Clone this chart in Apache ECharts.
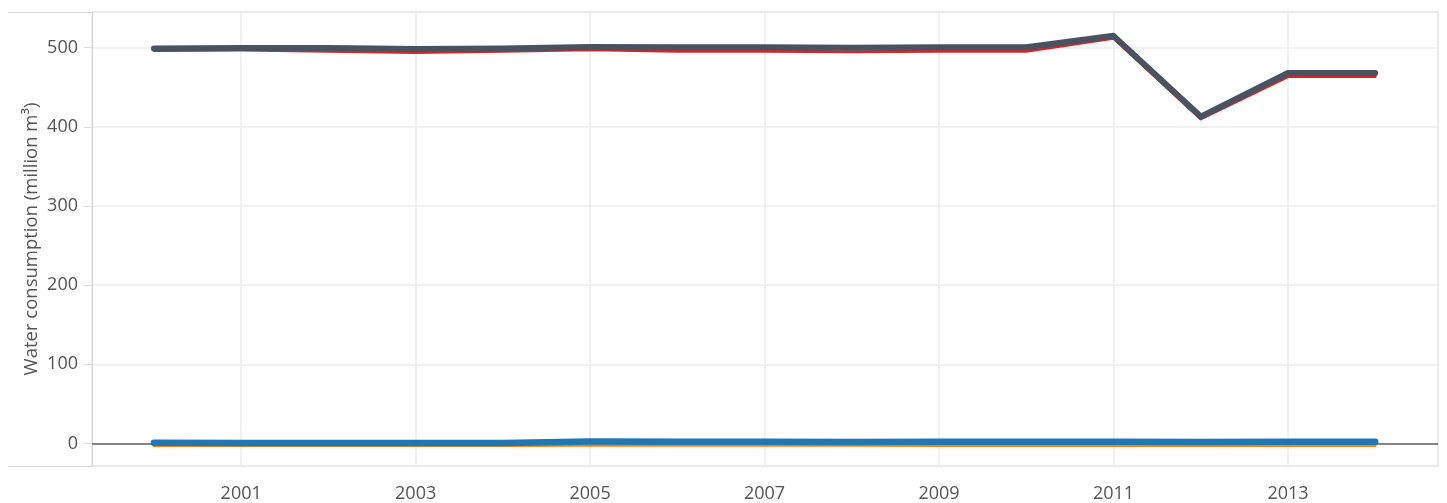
<!DOCTYPE html>
<html><head><meta charset="utf-8">
<script src="https://cdn.jsdelivr.net/npm/echarts@6/dist/echarts.min.js"></script>
<style>html,body{margin:0;padding:0;background:#fff}#c{width:1447px;height:503px}</style>
</head><body><div id="c"></div>
<script>
const years = [2000,2001,2002,2003,2004,2005,2006,2007,2008,2009,2010,2011,2012,2013,2014];
const xLabelYears = [2001,2003,2005,2007,2009,2011,2013];
const yTicks = [0,100,200,300,400,500];
const totalVals = [499,499.5,499.5,498.5,499,501,500.5,500.5,500,500.5,500.5,515,413,468,468];
const redVals = [496.5,497,495.5,494,495.5,497.5,495.5,495.5,495,495.5,495.5,512,410,463.5,463.5];
const blueVals = [1,0.8,0.8,0.8,0.8,2.5,2.2,2.2,2,2.3,2.3,2.3,2,2.3,2.3];
const orangeVals = [-2.5,-2.5,-2.5,-2.5,-2.5,-2.2,-2.2,-2.2,-2.2,-2.5,-2.5,-2.5,-2.5,-2.5,-2.5];

const pairs = v => years.map((y,i)=>[y,v[i]]);
const font = '"Open Sans", "Noto Sans", sans-serif';
const chart = echarts.init(document.getElementById('c'));
chart.setOption({
  animation:false,
  backgroundColor:'#fff',
  grid:{left:92,right:9,top:12,bottom:37,show:true,borderColor:'#d6d6d6',borderWidth:1},
  xAxis:{type:'value',min:1999.29,max:2014.72,
    axisLine:{show:true,lineStyle:{color:'#d6d6d6'}},
    axisTick:{show:true,customValues:years,length:3,lineStyle:{color:'#cfcfcf'}},
    axisLabel:{customValues:xLabelYears,formatter:v=>String(v),color:'#555',fontSize:18,fontFamily:font,margin:19},
    splitLine:{show:false}},
  yAxis:{type:'value',min:-28.4,max:545.1,
    name:'Water consumption (million m³)',nameLocation:'middle',nameGap:51,nameMoveOverlap:false,
    nameTextStyle:{color:'#555',fontSize:18.5,fontFamily:font},
    axisLine:{show:true,lineStyle:{color:'#d6d6d6'}},
    axisTick:{show:true,customValues:yTicks,length:8,lineStyle:{color:'#dcdcdc'}},
    axisLabel:{customValues:yTicks,color:'#555',fontSize:18,fontFamily:font,margin:14},
    splitLine:{show:true,lineStyle:{color:'#ececec',width:1.5}}},
  graphic:[
    {type:'line',shape:{x1:8,y1:12.5,x2:92,y2:12.5},style:{stroke:'#d6d6d6',lineWidth:1},silent:true},
    {type:'line',shape:{x1:8,y1:466.5,x2:92,y2:466.5},style:{stroke:'#d6d6d6',lineWidth:1},silent:true}
  ],
  series:[
    {type:'line',data:[],z:1,silent:true,
      markLine:{silent:true,symbol:'none',label:{show:false},animation:false,
        lineStyle:{color:'#ececec',width:1.5,type:'solid'},
        data:xLabelYears.map(y=>({xAxis:y}))}},
    {type:'line',data:[],z:1,silent:true,
      markLine:{silent:true,symbol:'none',label:{show:false},animation:false,
        lineStyle:{color:'#666',width:1.5,type:'solid'},
        data:[{yAxis:0}]}},
    {name:'Orange',type:'line',data:pairs(orangeVals),symbol:'none',zlevel:1,z:3,
      lineStyle:{color:'#ff7f0e',width:3,cap:'round',join:'round'}},
    {name:'Blue',type:'line',data:pairs(blueVals),symbol:'none',zlevel:1,z:4,
      lineStyle:{color:'#1f77b4',width:6.5,cap:'round',join:'round'}},
    {name:'Red',type:'line',data:pairs(redVals),symbol:'none',zlevel:1,z:5,
      lineStyle:{color:'#d62728',width:3,cap:'round',join:'round'}},
    {name:'Total',type:'line',data:pairs(totalVals),symbol:'none',zlevel:1,z:6,
      lineStyle:{color:'#4a5262',width:6,cap:'round',join:'round'}}
  ]
});
</script></body></html>
